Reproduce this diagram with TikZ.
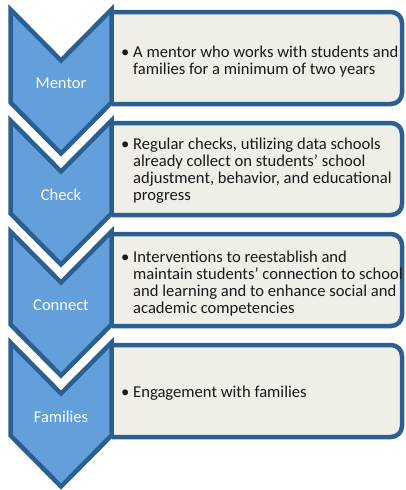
\documentclass[tikz,border=0pt]{standalone}
\usepackage{fontspec}
\setmainfont{Carlito}
\usepackage{xcolor}
\usetikzlibrary{positioning}
\definecolor{chevfill}{RGB}{99,159,219}
\definecolor{chevline}{RGB}{43,94,145}
\definecolor{boxfill}{RGB}{239,239,232}
\definecolor{bodytext}{RGB}{25,25,25}
\newcommand{\itemdot}{\makebox[12pt][l]{\textbullet}}
\newcommand{\itemgap}{\hspace*{12pt}}

\begin{document}
\begin{tikzpicture}[x=1pt,y=-1pt]
\tikzset{chevron/.style={fill=chevfill,draw=chevline,line width=4.5pt,miter limit=10},
infobox/.style={fill=boxfill,draw=chevline,line width=4.5pt,rounded corners=11pt},
chevlabel/.style={text=white,font=\fontsize{16.5}{17.3}\selectfont,inner sep=0pt},
infotext/.style={anchor=west,align=left,text=bodytext,font=\fontsize{16.6}{17}\selectfont,inner sep=0pt}}
\useasboundingbox (0,0) rectangle (405,490);
% boxes, cut at the chevrons so only the right corners stay round
\begin{scope}
\clip (111.5,0) rectangle (405,490);
\draw[infobox](80,12) rectangle (402,104);
\draw[infobox](80,123) rectangle (402,215);
\draw[infobox](80,234) rectangle (402,326);
\draw[infobox](80,345) rectangle (402,437);
\end{scope}
% chevrons
\draw[chevron](10.5,9.5) -- ++(50.5,51) -- ++(50.5,-51) -- ++(0,93) -- ++(-50.5,51) -- ++(-50.5,-51) -- cycle;
\draw[chevron](10.5,120.5) -- ++(50.5,51) -- ++(50.5,-51) -- ++(0,93) -- ++(-50.5,51) -- ++(-50.5,-51) -- cycle;
\draw[chevron](10.5,231.5) -- ++(50.5,51) -- ++(50.5,-51) -- ++(0,93) -- ++(-50.5,51) -- ++(-50.5,-51) -- cycle;
\draw[chevron](10.5,342.5) -- ++(50.5,51) -- ++(50.5,-51) -- ++(0,93) -- ++(-50.5,51) -- ++(-50.5,-51) -- cycle;
\node[chevlabel](mentor) at (61,83.5){Mentor};
\node[chevlabel](check) at (61,194.5){Check};
\node[chevlabel](connect) at (61,305.5){Connect};
\node[chevlabel](families) at (61,416.5){Families};
% bullet texts
\node[infotext](texta) at (121,62){\itemdot A mentor who works with students and\\ \itemgap families for a minimum of two years};
\node[infotext](textb) at (121,171){\itemdot Regular checks, utilizing data schools\\ \itemgap already collect on students’ school\\ \itemgap adjustment, behavior, and educational\\ \itemgap progress};
\node[infotext](textc) at (121,284){\itemdot Interventions to reestablish and\\ \itemgap maintain students’ connection to school\\ \itemgap and learning and to enhance social and\\ \itemgap academic competencies};
\node[infotext](textd) at (121,393){\itemdot Engagement with families};
\end{tikzpicture}
\end{document}
